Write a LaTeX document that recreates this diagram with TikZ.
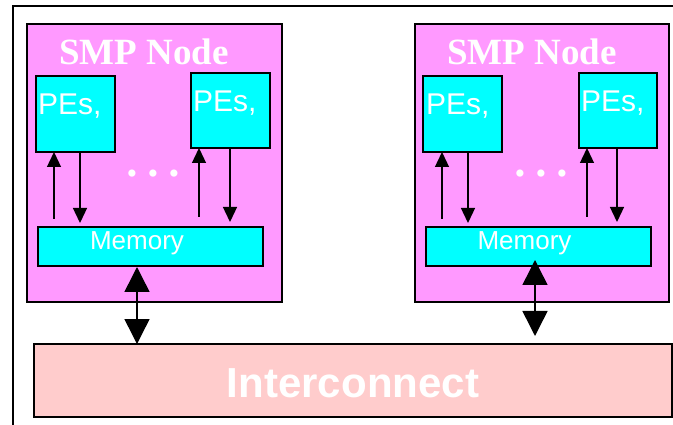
\documentclass[tikz,border=0pt]{standalone}
\usepackage{fontspec}
\setmainfont{Liberation Serif}
\setsansfont{Liberation Sans}
\usetikzlibrary{arrows.meta}
\definecolor{smppink}{HTML}{FF99FF}
\definecolor{pecyan}{HTML}{00FFFF}
\definecolor{icpink}{HTML}{FFCCCC}
\tikzset{
  box/.style={draw=black, line width=1.3pt, inner sep=0pt, outer sep=0pt, anchor=north west},
  smpbox/.style={box, fill=smppink},
  cybox/.style={box, fill=pecyan},
  icbox/.style={box, fill=icpink},
  title/.style={text=white, font=\rmfamily\bfseries\fontsize{37}{37}\selectfont, anchor=base, inner sep=0pt},
  pelabel/.style={text=white, font=\sffamily\fontsize{30}{30}\selectfont, anchor=base west, inner sep=0pt},
  memlabel/.style={text=white, font=\sffamily\fontsize{26}{26}\selectfont, anchor=base, inner sep=0pt},
  iclabel/.style={text=white, font=\sffamily\bfseries\fontsize{42}{42}\selectfont, anchor=base, inner sep=0pt},
  dotlabel/.style={text=white, font=\rmfamily\bfseries\itshape\fontsize{44}{44}\selectfont, anchor=base, inner sep=0pt},
  arr/.style={line width=1.3pt, -{Triangle[length=15pt, width=14pt]}},
  bigarr/.style={line width=1.5pt, {Triangle[length=25pt, width=25pt]}-{Triangle[length=25pt, width=25pt]}},
}
\begin{document}
\begin{tikzpicture}[x=1pt, y=-1pt]
\useasboundingbox (0,0) rectangle (673,425);
\fill[white] (0,0) rectangle (673,425);
% outer frame
\draw[line width=1.2pt] (13,440) -- (13,6) -- (690,6);

% SMP nodes
\node[smpbox, minimum width=255pt, minimum height=278pt] (smp1) at (27,24) {};
\node[smpbox, minimum width=254pt, minimum height=278pt] (smp2) at (415,24) {};

% Interconnect
\node[icbox, minimum width=638pt, minimum height=73pt] (ic) at (34,344) {};
\node[iclabel] (ictext) at (353,397) {Interconnect};

% Node 1 contents
\node[title] (t1) at (144,65) {SMP Node};
\node[cybox, minimum width=79pt, minimum height=76pt] (pe11) at (36,76) {};
\node[cybox, minimum width=79pt, minimum height=75pt] (pe12) at (191,73) {};
\node[pelabel] (l11) at (38,115) {PEs,};
\node[pelabel] (l12) at (193,112) {PEs,};
\node[cybox, minimum width=225pt, minimum height=39pt] (mem1) at (38,227) {};
\node[memlabel] (m1) at (137,250) {Memory};
\node[dotlabel] (d1) at (155,177) {.\hspace{10pt}.\hspace{10pt}.};

% Node 2 contents
\node[title] (t2) at (532,65) {SMP Node};
\node[cybox, minimum width=79pt, minimum height=76pt] (pe21) at (423,76) {};
\node[cybox, minimum width=78pt, minimum height=75pt] (pe22) at (579,73) {};
\node[pelabel] (l21) at (426,115) {PEs,};
\node[pelabel] (l22) at (581,112) {PEs,};
\node[cybox, minimum width=225pt, minimum height=39pt] (mem2) at (426,227) {};
\node[memlabel] (m2) at (524.5,250) {Memory};
\node[dotlabel] (d2) at (543,177) {.\hspace{10pt}.\hspace{10pt}.};

% Node 1 arrows
\draw[arr] ([xshift=16pt, yshift=8pt]mem1.north west) -- ([xshift=18pt]pe11.south west);
\draw[arr] ([xshift=44pt]pe11.south west) -- ([xshift=42pt, yshift=4pt]mem1.north west);
\draw[arr] ([xshift=161pt, yshift=10pt]mem1.north west) -- ([xshift=8pt]pe12.south west);
\draw[arr] ([xshift=39pt]pe12.south west) -- ([xshift=192pt, yshift=5pt]mem1.north west);

% Node 2 arrows
\draw[arr] ([xshift=16pt, yshift=8pt]mem2.north west) -- ([xshift=19pt]pe21.south west);
\draw[arr] ([xshift=45pt]pe21.south west) -- ([xshift=42pt, yshift=4pt]mem2.north west);
\draw[arr] ([xshift=161pt, yshift=10pt]mem2.north west) -- ([xshift=8pt]pe22.south west);
\draw[arr] ([xshift=38pt]pe22.south west) -- ([xshift=191pt, yshift=5pt]mem2.north west);

% Memory <-> Interconnect
\draw[bigarr] ([xshift=99pt, yshift=-1pt]mem1.south west) -- ([xshift=103pt]ic.north west);
\draw[bigarr] ([xshift=109pt, yshift=6pt]mem2.south west) -- ([xshift=501pt, yshift=8pt]ic.north west);
\end{tikzpicture}
\end{document}
